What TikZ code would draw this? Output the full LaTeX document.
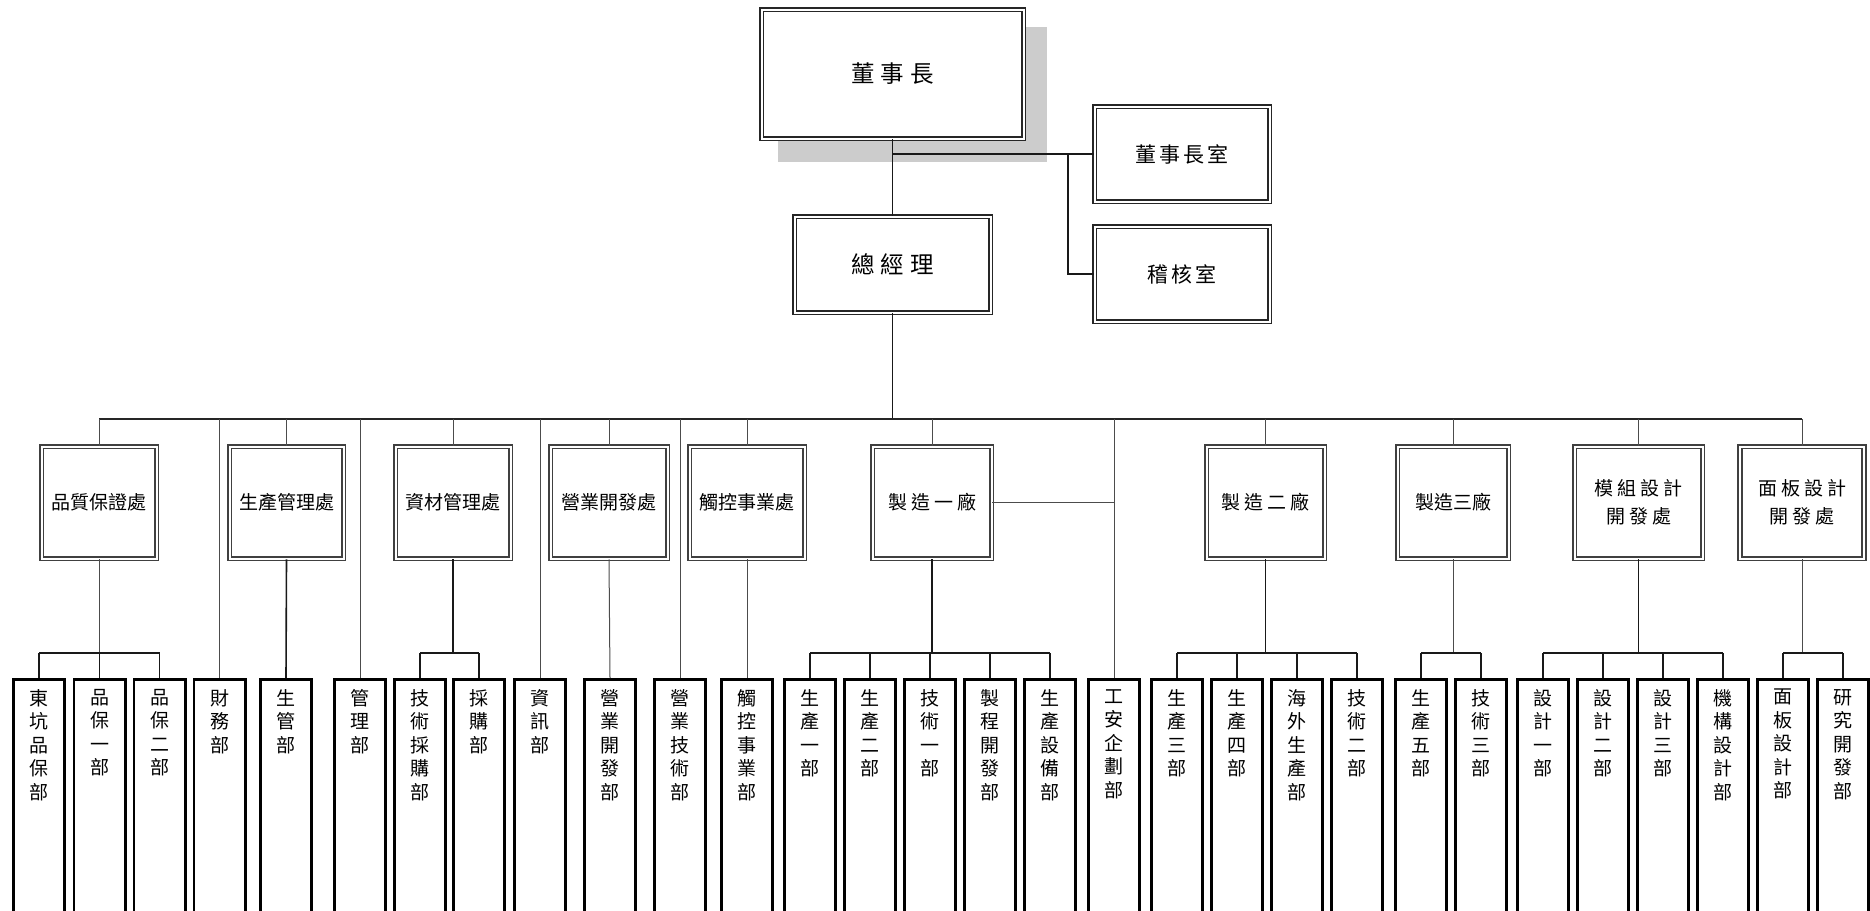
\documentclass[tikz,border=0pt]{standalone}
\usepackage{fontspec}
\setmainfont{Noto Sans CJK TC}
\newcommand\sgap{\hspace{6pt}}
\newcommand\tgap{\hspace{3pt}}
\newcommand\mgap{\hspace{4pt}}
\begin{document}
\begin{tikzpicture}[x=1pt,y=-1pt,
 topbox/.style={draw=black!85, double, double distance=2pt, line width=1.3pt, fill=white, inner sep=0pt, align=center},
 midbox/.style={draw=black!75, double, double distance=2pt, line width=1.6pt, fill=white, inner sep=0pt, align=center, minimum height=112pt, font=\fontsize{19}{28}\selectfont},
 dept/.style={draw=black, line width=2.6pt, fill=white, inner sep=0pt, anchor=north, minimum width=51.4pt, minimum height=260pt},
 vlab/.style={anchor=north, yshift=-11pt, inner sep=0pt, align=center, font=\fontsize{19}{23.5}\selectfont},
 conn/.style={draw=black!90, line width=1.6pt},
 thinc/.style={draw=black!70, line width=1pt},
 busline/.style={draw=black!85, line width=1.8pt},
]
\useasboundingbox (0,0) rectangle (1870,910);
\clip (0,0) rectangle (1870,910);

% shadow of chairman box
\fill[gray!40] (778,27) rectangle (1047,162);

% top level
\node[topbox, minimum width=262pt, minimum height=129pt, font=\fontsize{23.5}{27}\selectfont] (chair) at (892.5,74) {董\sgap 事\sgap 長};
\node[topbox, minimum width=196pt, minimum height=96pt, font=\fontsize{23.5}{27}\selectfont] (gm) at (892.5,264.5) {總\sgap 經\sgap 理};
\node[topbox, minimum width=175pt, minimum height=95pt, font=\fontsize{21}{24}\selectfont] (co) at (1182,154) {董\tgap 事\tgap 長\tgap 室};
\node[topbox, minimum width=175pt, minimum height=95pt, font=\fontsize{21}{24}\selectfont] (audit) at (1182,274) {稽\tgap 核\tgap 室};

% middle level
\node[midbox, minimum width=115pt] (qa) at (99,502.5) {品質保證處};
\node[midbox, minimum width=114pt] (pm) at (286.5,502.5) {生產管理處};
\node[midbox, minimum width=115pt] (mm) at (453,502.5) {資材管理處};
\node[midbox, minimum width=117pt] (sd) at (609,502.5) {營業開發處};
\node[midbox, minimum width=115pt] (tp) at (747,502.5) {觸控事業處};
\node[midbox, minimum width=119pt] (f1) at (932,502.5) {製\mgap 造\mgap 一\mgap 廠};
\node[midbox, minimum width=118pt] (f2) at (1265.5,502.5) {製\mgap 造\mgap 二\mgap 廠};
\node[midbox, minimum width=111pt] (f3) at (1453,502.5) {製造三廠};
\node[midbox, minimum width=128pt] (md) at (1638.5,502.5) {模\mgap 組\mgap 設\mgap 計\\開\mgap 發\mgap 處};
\node[midbox, minimum width=124pt] (pd) at (1802,502.5) {面\mgap 板\mgap 設\mgap 計\\開\mgap 發\mgap 處};

% bottom level
\node[dept,label={[vlab]90:{東\\坑\\品\\保\\部}}] (d1) at (39,678) {};
\node[dept,label={[vlab]90:{品\\保\\一\\部}}] (d2) at (99.5,678) {};
\node[dept,label={[vlab]90:{品\\保\\二\\部}}] (d3) at (159.5,678) {};
\node[dept,label={[vlab]90:{財\\務\\部}}] (d4) at (219.5,678) {};
\node[dept,label={[vlab]90:{生\\管\\部}}] (d5) at (286,678) {};
\node[dept,label={[vlab]90:{管\\理\\部}}] (d6) at (360,678) {};
\node[dept,label={[vlab]90:{技\\術\\採\\購\\部}}] (d7) at (420,678) {};
\node[dept,label={[vlab]90:{採\\購\\部}}] (d8) at (479,678) {};
\node[dept,label={[vlab]90:{資\\訊\\部}}] (d9) at (540,678) {};
\node[dept,label={[vlab]90:{營\\業\\開\\發\\部}}] (d10) at (610,678) {};
\node[dept,label={[vlab]90:{營\\業\\技\\術\\部}}] (d11) at (680,678) {};
\node[dept,label={[vlab]90:{觸\\控\\事\\業\\部}}] (d12) at (747,678) {};
\node[dept,label={[vlab]90:{生\\產\\一\\部}}] (d13) at (810,678) {};
\node[dept,label={[vlab]90:{生\\產\\二\\部}}] (d14) at (870,678) {};
\node[dept,label={[vlab]90:{技\\術\\一\\部}}] (d15) at (930,678) {};
\node[dept,label={[vlab]90:{製\\程\\開\\發\\部}}] (d16) at (990,678) {};
\node[dept,label={[vlab]90:{生\\產\\設\\備\\部}}] (d17) at (1050,678) {};
\node[dept,label={[vlab]90:{工\\安\\企\\劃\\部}}] (d18) at (1114,678) {};
\node[dept,label={[vlab]90:{生\\產\\三\\部}}] (d19) at (1177,678) {};
\node[dept,label={[vlab]90:{生\\產\\四\\部}}] (d20) at (1237,678) {};
\node[dept,label={[vlab]90:{海\\外\\生\\產\\部}}] (d21) at (1297,678) {};
\node[dept,label={[vlab]90:{技\\術\\二\\部}}] (d22) at (1357,678) {};
\node[dept,label={[vlab]90:{生\\產\\五\\部}}] (d23) at (1421,678) {};
\node[dept,label={[vlab]90:{技\\術\\三\\部}}] (d24) at (1481,678) {};
\node[dept,label={[vlab]90:{設\\計\\一\\部}}] (d25) at (1543,678) {};
\node[dept,label={[vlab]90:{設\\計\\二\\部}}] (d26) at (1603,678) {};
\node[dept,label={[vlab]90:{設\\計\\三\\部}}] (d27) at (1663,678) {};
\node[dept,label={[vlab]90:{機\\構\\設\\計\\部}}] (d28) at (1723,678) {};
\node[dept,label={[vlab]90:{面\\板\\設\\計\\部}}] (d29) at (1783,678) {};
\node[dept,label={[vlab]90:{研\\究\\開\\發\\部}}] (d30) at (1843,678) {};

% helper coordinates
\coordinate (bus) at (0,419);
\coordinate (sub) at (0,653);
\coordinate (br) at (1068,154);

% top connectors
\draw[conn] (chair.south) -- (gm.north);
\draw[conn] (chair.south |- co.west) -- (co.west);
\draw[conn] (br) |- (audit.west);
\draw[conn] (gm.south) -- (gm.south |- bus);
\draw[busline] (qa.north |- bus) -- (pd.north |- bus);

% bus to middle boxes and direct departments
\foreach \m in {qa,pm,mm,sd,tp,f1,f2,f3,md,pd} \draw[thinc] (\m.north) -- (\m.north |- bus);
\foreach \d in {d4,d6,d9,d11,d18} \draw[thinc] (\d.north) -- (\d.north |- bus);
\draw[thinc] (f1.east) -- (f1.east -| d18.north);

% single children
\draw[conn] (pm.south) -- (d5.north);
\draw[thinc] (sd.south) -- (d10.north);
\draw[thinc] (tp.south) -- (d12.north);

% groups
\draw[thinc] (qa.south) -- (qa.south |- sub);
\draw[conn] (d1.north |- sub) -- (d3.north |- sub);
\foreach \c in {d1,d2,d3} \draw[conn] (\c.north) -- (\c.north |- sub);

\draw[conn] (mm.south) -- (mm.south |- sub);
\draw[conn] (d7.north |- sub) -- (d8.north |- sub);
\foreach \c in {d7,d8} \draw[conn] (\c.north) -- (\c.north |- sub);

\draw[conn] (f1.south) -- (f1.south |- sub);
\draw[conn] (d13.north |- sub) -- (d17.north |- sub);
\foreach \c in {d13,d14,d15,d16,d17} \draw[conn] (\c.north) -- (\c.north |- sub);

\draw[conn] (f2.south) -- (f2.south |- sub);
\draw[conn] (d19.north |- sub) -- (d22.north |- sub);
\foreach \c in {d19,d20,d21,d22} \draw[conn] (\c.north) -- (\c.north |- sub);

\draw[thinc] (f3.south) -- (f3.south |- sub);
\draw[conn] (d23.north |- sub) -- (d24.north |- sub);
\foreach \c in {d23,d24} \draw[conn] (\c.north) -- (\c.north |- sub);

\draw[conn] (md.south) -- (md.south |- sub);
\draw[conn] (d25.north |- sub) -- (d28.north |- sub);
\foreach \c in {d25,d26,d27,d28} \draw[conn] (\c.north) -- (\c.north |- sub);

\draw[thinc] (pd.south) -- (pd.south |- sub);
\draw[conn] (d29.north |- sub) -- (d30.north |- sub);
\foreach \c in {d29,d30} \draw[conn] (\c.north) -- (\c.north |- sub);
\end{tikzpicture}
\end{document}
